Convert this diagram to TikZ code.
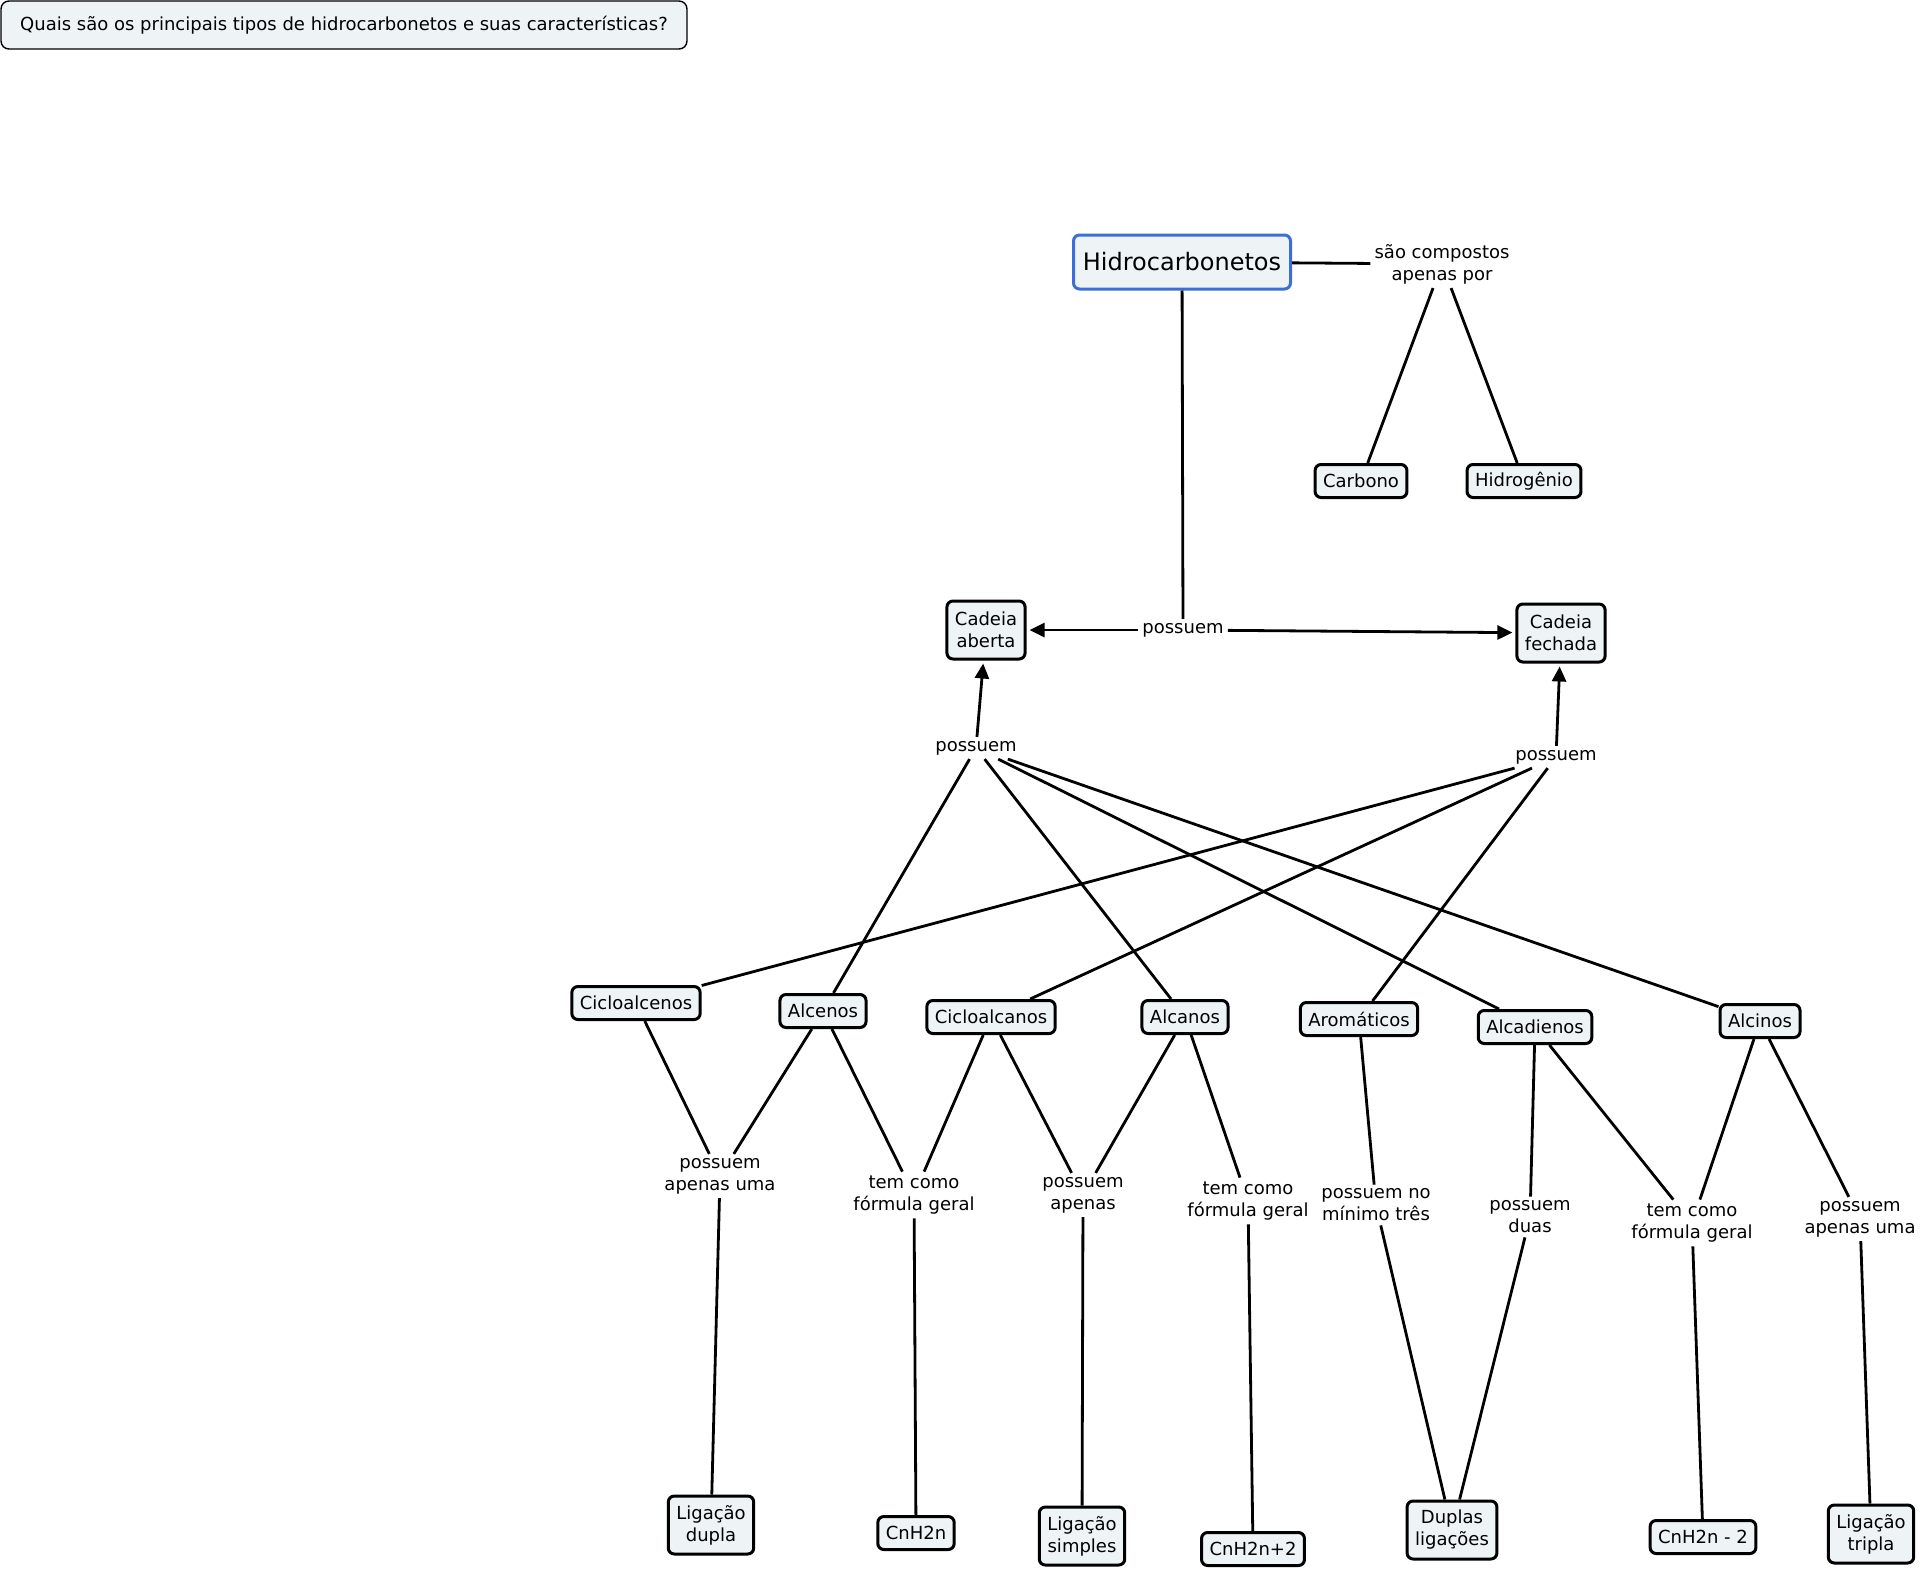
\documentclass[tikz,border=0pt]{standalone}
\usepackage{fontspec}
\setmainfont{DejaVu Sans}
\usetikzlibrary{arrows.meta}
\definecolor{nodefill}{RGB}{238,244,246}
\definecolor{hblue}{RGB}{60,110,215}
\begin{document}
\begin{tikzpicture}[x=1pt,y=-1pt,
  concept/.style={draw=black, line width=3pt, fill=nodefill, rounded corners=6pt,
    align=center, inner xsep=8pt, inner ysep=5pt, minimum height=33pt,
    font=\fontsize{18}{22}\selectfont},
  twoline/.style={minimum height=58pt},
  phrase/.style={align=center, inner sep=4pt, font=\fontsize{18}{22}\selectfont},
  link/.style={line width=2.8pt},
  arr/.style={line width=2.8pt, -{Triangle[length=15pt,width=14pt]}, shorten >=3pt},
]
\useasboundingbox (0,0) rectangle (1921,1568);

% title
\node[draw=black, line width=1.4pt, fill=nodefill, rounded corners=8pt,
  minimum width=686pt, minimum height=48pt, inner sep=0pt,
  font=\fontsize{18}{22}\selectfont] (title) at (344,25)
  {Quais são os principais tipos de hidrocarbonetos e suas características?};

% top
\node[concept, draw=hblue, minimum width=217pt, minimum height=54pt,
  font=\fontsize{24}{28}\selectfont] (hidro) at (1182,262) {Hidrocarbonetos};
\node[phrase] (sc) at (1442,264) {são compostos\\apenas por};
\node[concept] (carbono) at (1361,481) {Carbono};
\node[concept] (hidrog) at (1524,481) {Hidrogênio};
\node[phrase] (p0) at (1183,630) {possuem};
\node[concept, twoline] (aberta) at (986,630) {Cadeia\\aberta};
\node[concept, twoline] (fechada) at (1561,633) {Cadeia\\fechada};
\node[phrase] (pL) at (976,748) {possuem};
\node[phrase] (pR) at (1556,757) {possuem};

% middle row
\node[concept] (cicloalcenos) at (636,1003) {Cicloalcenos};
\node[concept] (alcenos) at (823,1011) {Alcenos};
\node[concept] (cicloalcanos) at (991,1017) {Cicloalcanos};
\node[concept] (alcanos) at (1185,1017) {Alcanos};
\node[concept] (aromaticos) at (1359,1019) {Aromáticos};
\node[concept] (alcadienos) at (1535,1027) {Alcadienos};
\node[concept] (alcinos) at (1760,1021) {Alcinos};

% linking phrases
\node[phrase] (pau1) at (720,1176) {possuem\\apenas uma};
\node[phrase] (tcfg1) at (914,1195) {tem como\\fórmula geral};
\node[phrase] (pa) at (1083,1195) {possuem\\apenas};
\node[phrase] (tcfg2) at (1248,1201) {tem como\\fórmula geral};
\node[phrase] (pnmt) at (1376,1205) {possuem no\\mínimo três};
\node[phrase] (pd) at (1530,1217) {possuem\\duas};
\node[phrase] (tcfg3) at (1692,1223) {tem como\\fórmula geral};
\node[phrase] (pau2) at (1860,1219) {possuem\\apenas uma};

% bottom row
\node[concept, twoline] (ldupla) at (711,1525) {Ligação\\dupla};
\node[concept] (cnh2n) at (916,1533) {CnH2n};
\node[concept, twoline] (lsimples) at (1082,1536) {Ligação\\simples};
\node[concept] (cnh2n2) at (1253,1549) {CnH2n+2};
\node[concept, twoline] (duplas) at (1452,1530) {Duplas\\ligações};
\node[concept] (cnh2nm2) at (1703,1537) {CnH2n - 2};
\node[concept, twoline] (ltripla) at (1871,1534) {Ligação\\tripla};

% connectors
\draw[link] (hidro) -- (sc);
\draw[link] (sc) -- (carbono);
\draw[link] (sc) -- (hidrog);
\draw[link] (hidro) -- (p0);
\draw[arr] (p0) -- (aberta);
\draw[arr] (p0) -- (fechada);
\draw[arr] (pL) -- (aberta);
\draw[arr] (pR) -- (fechada);

\draw[link] (pL) -- (alcenos);
\draw[link] (pL) -- (alcanos);
\draw[link] (pL) -- (alcadienos);
\draw[link] (pL) -- (alcinos);
\draw[link] (pR) -- (cicloalcenos);
\draw[link] (pR) -- (cicloalcanos);
\draw[link] (pR) -- (aromaticos);

\draw[link] (cicloalcenos) -- (pau1);
\draw[link] (alcenos) -- (pau1);
\draw[link] (alcenos) -- (tcfg1);
\draw[link] (cicloalcanos) -- (tcfg1);
\draw[link] (cicloalcanos) -- (pa);
\draw[link] (alcanos) -- (pa);
\draw[link] (alcanos) -- (tcfg2);
\draw[link] (aromaticos) -- (pnmt);
\draw[link] (alcadienos) -- (pd);
\draw[link] (alcadienos) -- (tcfg3);
\draw[link] (alcinos) -- (tcfg3);
\draw[link] (alcinos) -- (pau2);

\draw[link] (pau1) -- (ldupla);
\draw[link] (tcfg1) -- (cnh2n);
\draw[link] (pa) -- (lsimples);
\draw[link] (tcfg2) -- (cnh2n2);
\draw[link] (pnmt) -- (duplas);
\draw[link] (pd) -- (duplas);
\draw[link] (tcfg3) -- (cnh2nm2);
\draw[link] (pau2) -- (ltripla);
\end{tikzpicture}
\end{document}
